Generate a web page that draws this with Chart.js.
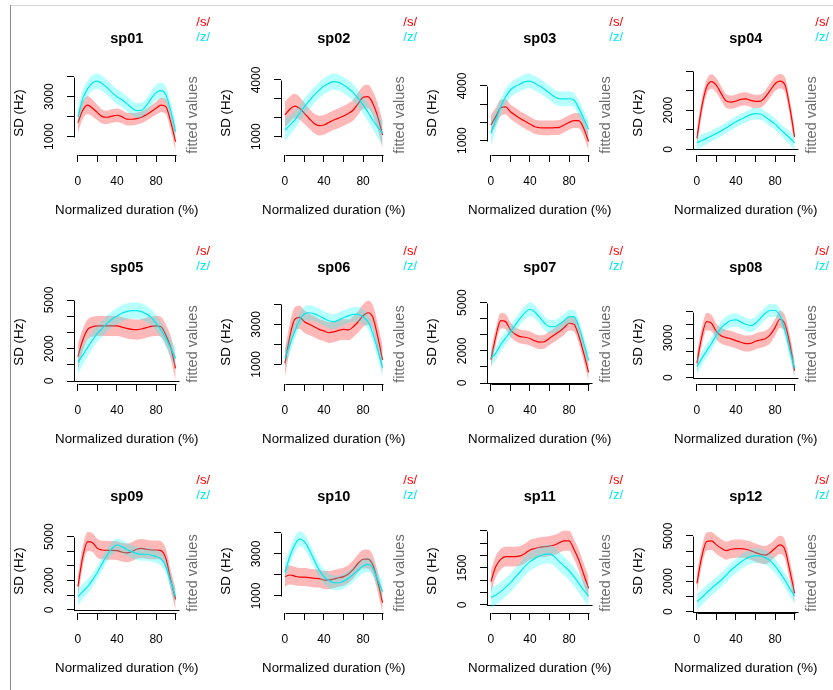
<!DOCTYPE html>
<html><head><meta charset="utf-8">
<script src="https://cdn.jsdelivr.net/npm/chart.js@4.4.0/dist/chart.umd.min.js"></script>
<style>
html,body{margin:0;padding:0;background:#fff;overflow:hidden;width:833px;height:690px;position:relative;}
canvas{position:absolute;}
#bt{position:absolute;left:10px;top:5px;width:823px;height:1px;background:#d6d6d6;}
#bl{position:absolute;left:10px;top:5px;width:1px;height:685px;background:#8c8c8c;}
</style></head><body>
<div id="bt"></div><div id="bl"></div>
<script>
// ---------------- data ----------------
const xPercent = [0,5,10,15,20,25,30,35,40,45,50,55,60,65,70,75,80,85,90,95,100];
const xTicks = [0,20,40,60,80,100];
const xTickLabels = [0,40,80];
const seriesNames = ['/s/','/z/'];
const panelNames = ['sp01','sp02','sp03','sp04','sp05','sp06','sp07','sp08','sp09','sp10','sp11','sp12'];

const sp01_s   = [1700,2330,2580,2420,2200,2000,1970,2030,2070,2000,1880,1870,1900,1970,2100,2250,2420,2580,2500,1750,750];
const sp01_sCI = [500,450,450,420,380,350,340,340,340,330,320,310,300,300,300,310,330,360,380,420,480];
const sp01_z   = [2000,2900,3400,3700,3780,3650,3450,3200,3000,2850,2650,2450,2300,2320,2550,2900,3200,3300,3100,2300,1250];
const sp01_zCI = [450,420,400,390,380,380,380,380,380,370,370,370,370,370,370,380,390,400,410,430,460];

const sp02_s   = [2150,2450,2620,2500,2230,1950,1700,1580,1620,1750,1880,1980,2090,2230,2410,2750,3080,3120,2760,2060,1090];
const sp02_sCI = [700,680,650,600,560,530,520,520,520,520,520,520,530,540,560,580,600,620,640,680,720];
const sp02_z   = [1350,1600,1880,2230,2590,2900,3200,3450,3680,3820,3910,3870,3730,3550,3330,3020,2680,2290,1880,1520,1180];
const sp02_zCI = [600,520,470,450,440,430,430,430,430,430,430,430,430,430,440,450,460,480,520,580,650];

const sp03_s   = [1860,2320,2800,2850,2590,2400,2220,2060,1910,1760,1710,1700,1700,1710,1730,1860,2000,2100,2100,1680,950];
const sp03_sCI = [550,480,450,420,400,400,400,400,400,400,400,400,400,400,400,400,400,410,420,450,500];
const sp03_z   = [1400,2130,2860,3410,3780,3980,4110,4240,4270,4140,4000,3820,3610,3410,3300,3290,3300,3230,2770,2220,1620];
const sp03_zCI = [700,550,450,420,400,400,400,400,400,400,400,400,400,400,400,400,400,400,420,450,500];

const sp04_s   = [560,2170,3190,3470,3270,2850,2470,2420,2470,2560,2580,2510,2460,2470,2680,3020,3360,3490,3320,2170,640];
const sp04_sCI = [450,420,380,370,370,360,350,340,340,340,340,340,340,340,350,360,370,370,380,420,450];
const sp04_z   = [340,450,560,690,810,950,1100,1260,1410,1540,1660,1780,1830,1810,1660,1480,1290,1050,810,580,340];
const sp04_zCI = [380,340,300,290,280,280,280,280,280,280,280,290,300,300,300,300,300,300,320,350,380];

const sp05_s   = [1500,2530,3190,3350,3400,3400,3400,3400,3400,3330,3250,3190,3170,3210,3290,3370,3400,3350,2840,2080,780];
const sp05_sCI = [800,700,620,620,620,620,620,620,620,620,620,620,620,620,620,620,620,620,640,700,800];
const sp05_z   = [1150,1600,2080,2530,2940,3250,3560,3810,4010,4180,4280,4340,4340,4280,4140,3930,3560,3150,2630,2020,1400];
const sp05_zCI = [700,600,550,520,500,500,500,500,500,500,500,500,500,500,500,500,500,500,520,560,620];

const sp06_s   = [1050,2380,3250,3350,3130,3000,2880,2750,2670,2580,2620,2700,2750,2720,2880,3130,3430,3580,3350,2380,1220];
const sp06_sCI = [700,650,600,580,560,540,520,520,520,520,520,520,520,520,520,540,560,600,620,650,700];
const sp06_z   = [1300,1970,2630,3220,3520,3580,3520,3420,3300,3180,3130,3220,3330,3420,3500,3500,3380,3130,2550,1720,850];
const sp06_zCI = [500,430,390,370,370,370,370,370,370,370,370,370,370,370,370,370,370,380,400,440,500];

const sp07_s   = [1450,2890,3880,3820,3310,3040,2890,2850,2770,2620,2540,2580,2790,3000,3200,3450,3720,3660,2930,1860,660];
const sp07_sCI = [550,500,480,470,450,440,430,430,430,430,430,430,430,430,430,440,450,460,480,520,560];
const sp07_z   = [1550,1860,2380,2790,3200,3620,4030,4380,4590,4420,4080,3720,3510,3510,3660,3880,4130,4130,3510,2480,1400];
const sp07_zCI = [480,450,430,420,420,420,420,420,430,430,420,420,420,420,420,420,420,420,430,450,480];

const sp08_s   = [1090,3110,4240,4120,3480,3160,3030,2930,2800,2680,2580,2600,2750,2850,2950,3230,3790,4420,4070,2600,530];
const sp08_sCI = [700,660,650,620,600,600,600,600,600,600,600,600,600,600,600,620,640,650,660,680,700];
const sp08_z   = [830,1460,2020,2600,3230,3790,4120,4320,4370,4220,4040,3940,4120,4490,4870,5080,5080,4670,3610,2100,710];
const sp08_zCI = [600,520,500,500,500,500,500,500,500,500,500,500,500,500,500,500,500,500,520,560,600];

const sp09_s   = [1590,3640,4660,4590,4200,4090,4070,4070,4050,3950,3890,3980,4140,4200,4140,4090,4090,4050,3520,2050,730];
const sp09_sCI = [700,680,660,640,640,640,640,640,640,640,640,640,640,640,640,640,640,640,650,680,720];
const sp09_z   = [910,1250,1590,2050,2570,3180,3750,4200,4430,4320,4140,3980,3860,3800,3800,3750,3640,3480,2950,1930,910];
const sp09_zCI = [600,520,480,460,450,450,450,450,450,450,450,450,450,450,450,450,450,450,460,500,560];

const sp10_s   = [1920,2000,1950,1900,1900,1870,1840,1830,1760,1760,1810,1870,1920,2050,2270,2560,2750,2760,2480,1680,680];
const sp10_sCI = [480,450,440,430,430,430,430,430,430,430,430,430,430,430,430,430,440,450,460,480,500];
const sp10_z   = [2110,2870,3430,3710,3590,3190,2710,2240,1920,1730,1630,1630,1710,1840,2030,2240,2430,2510,2320,1760,1210];
const sp10_zCI = [450,400,380,370,360,350,350,350,350,350,350,350,350,350,350,350,350,360,370,400,450];

const sp11_s   = [940,1550,1840,1950,1950,1950,1980,2080,2220,2280,2330,2350,2380,2420,2510,2590,2590,2250,1810,1240,670];
const sp11_sCI = [450,430,420,400,400,400,400,400,400,400,400,400,400,400,400,400,400,400,420,440,460];
const sp11_z   = [310,400,540,710,900,1120,1340,1570,1750,1880,1980,2040,2060,1950,1750,1570,1380,1140,870,600,360];
const sp11_zCI = [420,400,380,380,380,380,380,380,380,380,380,380,380,380,380,380,380,380,380,400,420];

const sp12_s   = [1870,3630,4630,4670,4410,4190,4030,4120,4160,4160,4120,4030,3900,3790,3740,3900,4190,4410,4120,2750,1210];
const sp12_sCI = [650,620,600,600,600,600,600,600,600,600,600,600,600,600,600,600,600,600,620,650,700];
const sp12_z   = [660,930,1260,1540,1830,2090,2420,2750,3020,3280,3500,3630,3700,3680,3570,3370,3020,2580,2090,1540,1040];
const sp12_zCI = [520,500,480,480,480,480,480,480,480,480,480,480,480,480,480,480,480,480,480,500,520];

// y axis ticks, labelled ticks and plotted range per panel
const yTicks = [
  [1000,2000,3000,4000],[1000,2000,3000,4000],[1000,2000,3000,4000],[0,1000,2000,3000,4000],
  [0,1000,2000,3000,4000,5000],[1000,2000,3000,4000],[0,1000,2000,3000,4000,5000],[0,1000,2000,3000,4000,5000],
  [0,1000,2000,3000,4000,5000],[1000,2000,3000,4000],[0,500,1000,1500,2000,2500,3000],[0,1000,2000,3000,4000,5000]
];
const yTickLabels = [
  [1000,3000],[1000,4000],[1000,4000],[0,2000],
  [0,2000,5000],[1000,3000],[0,2000,5000],[0,3000],
  [0,2000,5000],[1000,3000],[0,1500],[0,2000,5000]
];
const yMin = [83,30,214,-290,-185,17,-60,-480,-205,190,-323,-90];
const yMax = [4283,4474,4821,4010,5000,4217,5165,5875,5520,4190,3065,5460];
const xTitle = 'Normalized duration (%)';
const yTitle = 'SD (Hz)';
const sideText = 'fitted values';

const sFits = [sp01_s,sp02_s,sp03_s,sp04_s,sp05_s,sp06_s,sp07_s,sp08_s,sp09_s,sp10_s,sp11_s,sp12_s];
const sCIs  = [sp01_sCI,sp02_sCI,sp03_sCI,sp04_sCI,sp05_sCI,sp06_sCI,sp07_sCI,sp08_sCI,sp09_sCI,sp10_sCI,sp11_sCI,sp12_sCI];
const zFits = [sp01_z,sp02_z,sp03_z,sp04_z,sp05_z,sp06_z,sp07_z,sp08_z,sp09_z,sp10_z,sp11_z,sp12_z];
const zCIs  = [sp01_zCI,sp02_zCI,sp03_zCI,sp04_zCI,sp05_zCI,sp06_zCI,sp07_zCI,sp08_zCI,sp09_zCI,sp10_zCI,sp11_zCI,sp12_zCI];

// ---------------- drawing ----------------
const FONT = "'Liberation Sans', Arial, Helvetica, sans-serif";
const RED = '#ff0000', CYAN = '#00e8f0';
const RED_BAND = 'rgba(255,0,0,0.28)', CYAN_BAND = 'rgba(0,255,255,0.28)';
const colLeft = [10,217,423,629];
const W = 204, H = 229;

const rStyle = {
  id: 'rStyle',
  beforeDatasetsDraw(chart) {
    const ctx = chart.ctx, ca = chart.chartArea, ys = chart.scales.y;
    if (ys.min <= 0 && ys.max >= 0) {
      const y0 = Math.round(ys.getPixelForValue(0)) + 0.5;
      ctx.save(); ctx.strokeStyle = '#000'; ctx.lineWidth = 1;
      ctx.beginPath(); ctx.moveTo(ca.left, y0); ctx.lineTo(ca.right, y0); ctx.stroke(); ctx.restore();
    }
  },
  afterDraw(chart) {
    const ctx = chart.ctx, ca = chart.chartArea, xs = chart.scales.x, ys = chart.scales.y;
    const o = chart.options.plugins.rStyle;
    ctx.save();
    ctx.strokeStyle = '#000'; ctx.lineWidth = 1;
    // y axis line between first and last tick
    const t = ys.ticks;
    const ax = Math.round(ca.left) + 0.5;
    ctx.beginPath();
    ctx.moveTo(ax, Math.round(ys.getPixelForValue(t[0].value)) + 0.5);
    ctx.lineTo(ax, Math.round(ys.getPixelForValue(t[t.length-1].value)) + 0.5);
    ctx.stroke();
    // x axis line between first and last tick
    const by = Math.round(ca.bottom) + 0.5;
    ctx.beginPath();
    ctx.moveTo(Math.round(xs.getPixelForValue(xTicks[0])) + 0.5, by);
    ctx.lineTo(Math.round(xs.getPixelForValue(xTicks[xTicks.length-1])) + 0.5, by);
    ctx.stroke();
    // x axis title (centred under the plot region)
    ctx.font = '13.3px ' + FONT;
    ctx.textAlign = 'center'; ctx.textBaseline = 'middle'; ctx.fillStyle = '#000';
    ctx.fillText(o.xTitle, (ca.left + ca.right) / 2, 210.1);
    // legend
    ctx.font = '13px ' + FONT;
    ctx.textAlign = 'right';
    ctx.fillStyle = RED; ctx.fillText(o.legend[0], 200, 22.2);
    ctx.fillStyle = CYAN; ctx.fillText(o.legend[1], 200, 37.2);
    // right margin text
    ctx.translate(182.5, (ca.top + ca.bottom) / 2 + 2);
    ctx.rotate(-Math.PI / 2);
    ctx.font = '14.5px ' + FONT;
    ctx.textAlign = 'center'; ctx.fillStyle = '#6e6e6e';
    ctx.fillText(o.sideText, 0, 0);
    ctx.restore();
  }
};

function pts(f) { return xPercent.map((x, i) => ({x, y: f[i]})); }
function band(f, c, sign) { return xPercent.map((x, i) => ({x, y: f[i] + sign * c[i]})); }

function lineDs(data, color, width, order, fill, bg) {
  return {data, borderColor: color, borderWidth: width, backgroundColor: bg || 'rgba(0,0,0,0)',
    fill: fill, pointRadius: 0, pointHitRadius: 0, cubicInterpolationMode: 'monotone', order};
}

for (let i = 0; i < 12; i++) {
  const col = i % 4, row = Math.floor(i / 4);
  const cv = document.createElement('canvas');
  cv.width = W; cv.height = H;
  cv.style.left = colLeft[col] + 'px'; cv.style.top = (row * 229) + 'px';
  cv.style.width = W + 'px'; cv.style.height = H + 'px';
  document.body.appendChild(cv);
  const ticksY = yTicks[i], labY = yTickLabels[i];
  new Chart(cv, {
    type: 'line',
    data: {
      datasets: [
        lineDs(band(sFits[i], sCIs[i], -1), 'rgba(0,0,0,0)', 1, 6, false),
        lineDs(band(sFits[i], sCIs[i], 1), 'rgba(0,0,0,0)', 1, 5, '-1', RED_BAND),
        lineDs(pts(sFits[i]), RED, 1.2, 4, false),
        lineDs(band(zFits[i], zCIs[i], -1), 'rgba(0,0,0,0)', 1, 3, false),
        lineDs(band(zFits[i], zCIs[i], 1), 'rgba(0,0,0,0)', 1, 2, '-1', CYAN_BAND),
        lineDs(pts(zFits[i]), CYAN, 1.2, 1, false)
      ]
    },
    options: {
      responsive: false, animation: false, events: [],
      devicePixelRatio: 1,
      layout: {padding: {left: 0, right: W - 169.5, top: 0, bottom: 0}},
      plugins: {
        legend: {display: false}, tooltip: {enabled: false},
        title: {display: true, text: panelNames[i], fullSize: false, color: '#000',
          font: {family: FONT, size: 14.5, weight: 'bold', lineHeight: 1.2},
          padding: {top: 30.75, bottom: 22.85}},
        rStyle: {legend: seriesNames, sideText: sideText, xTitle: xTitle}
      },
      scales: {
        x: {
          type: 'linear', min: -4, max: 104,
          afterBuildTicks: s => { s.ticks = xTicks.map(v => ({value: v})); },
          afterFit: s => { s.height = 74; },
          grid: {drawOnChartArea: false, drawTicks: true, tickLength: 7, color: '#000', lineWidth: 1},
          border: {display: false},
          ticks: {autoSkip: false, maxRotation: 0, minRotation: 0, padding: 12, color: '#000',
            font: {family: FONT, size: 12},
            callback: v => xTickLabels.includes(v) ? String(v) : ''},
          title: {display: false}
        },
        y: {
          type: 'linear', min: yMin[i], max: yMax[i],
          afterBuildTicks: s => { s.ticks = ticksY.map(v => ({value: v})); },
          afterFit: s => { s.width = 64; },
          grid: {drawOnChartArea: false, drawTicks: true, tickLength: 7, color: '#000', lineWidth: 1},
          border: {display: false},
          ticks: {autoSkip: false, minRotation: 90, maxRotation: 90, crossAlign: 'center', padding: 3.6,
            color: '#000', font: {family: FONT, size: 12},
            callback: v => labY.includes(v) ? String(v) : ''},
          title: {display: true, text: yTitle, color: '#000',
            font: {family: FONT, size: 13.3}, padding: {top: 1.6, bottom: 0}}
        }
      }
    },
    plugins: [rStyle]
  });
}
</script>
</body></html>
